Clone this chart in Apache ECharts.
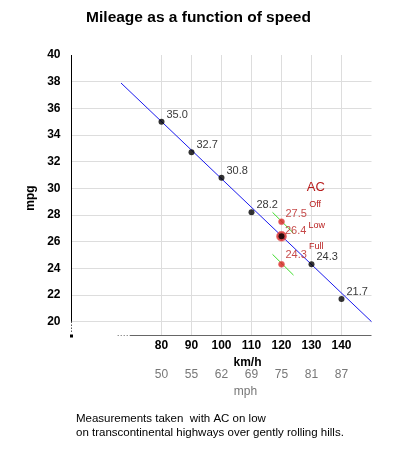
<!DOCTYPE html>
<html>
<head>
<meta charset="utf-8">
<script src="https://cdn.jsdelivr.net/npm/echarts@6/dist/echarts.min.js"></script>
<style>
html,body{margin:0;padding:0;background:#fff;}
#chart{width:397px;height:450px;}
</style>
</head>
<body>
<div id="chart"></div>
<script>
// measured points (km/h -> mpg)
var kmh = [80, 90, 100, 110, 120, 130, 140];
var mph = [50, 55, 62, 69, 75, 81, 87];
var mpg = [35.0, 32.7, 30.8, 28.2, 26.4, 24.3, 21.7];
var mpgTicks = [20, 22, 24, 26, 28, 30, 32, 34, 36, 38, 40];
// AC test at 120 km/h
var acSpeed = 120;
var acModes = ['Off', 'Low', 'Full'];
var acMpg = [27.5, 26.4, 24.3];
// trend lines
var fitLine = [[66.5, 37.9], [150, 20]];
var acTrendOff = [[117, 28.2], [124, 26.64]];
var acTrendFull = [[117, 25.05], [124, 23.49]];

var FONT = '"Liberation Sans", Arial, sans-serif';
var RED = '#b81c1c';
var GRID = '#dddddd';
var NONE = 'rgba(0,0,0,0)';

var X_MIN = 50, X_MAX = 150, X_STEP = 10;
var Y_MIN = 19, Y_MAX = 40, Y_STEP = 1;

// grid line colours: only at the labelled ticks (none along the top edge)
var xLineColors = [], yLineColors = [];
for (var v = X_MIN; v <= X_MAX; v += X_STEP) xLineColors.push(kmh.indexOf(v) >= 0 ? GRID : NONE);
for (var w = Y_MIN; w <= Y_MAX; w += Y_STEP) yLineColors.push(mpgTicks.indexOf(w) >= 0 && w < Y_MAX ? GRID : NONE);

var chart = echarts.init(document.getElementById('chart'));

var option = {
	animation: false,
	textStyle: { fontFamily: FONT },
	title: {
		text: 'Mileage as a function of speed',
		left: 'center',
		top: 5,
		textStyle: { fontSize: 15.5, fontWeight: 'bold', color: '#000', fontFamily: FONT }
	},
	grid: { left: 71.5, right: 25.5, top: 55, bottom: 115, outerBoundsMode: 'none' },
	xAxis: [{
		type: 'value',
		min: X_MIN, max: X_MAX, interval: X_STEP,
		axisLine: { show: false },
		axisTick: { show: false },
		splitLine: { show: true, lineStyle: { color: xLineColors, width: 1 } },
		axisLabel: {
			margin: 5,
			fontSize: 12, fontWeight: 'bold', color: '#000',
			formatter: function (v) { return kmh.indexOf(v) >= 0 ? v : ''; }
		},
		name: 'km/h', nameLocation: 'middle', nameGap: 21,
		nameTextStyle: { fontSize: 12, fontWeight: 'bold', color: '#000', padding: [0, 0, 0, 52] }
	}, {
		type: 'value',
		position: 'bottom',
		offset: 29,
		min: X_MIN, max: X_MAX, interval: X_STEP,
		axisLine: { show: false },
		axisTick: { show: false },
		splitLine: { show: false },
		axisLabel: {
			margin: 5,
			fontSize: 12, color: '#777',
			formatter: function (v) {
				var i = kmh.indexOf(v);
				return i >= 0 ? mph[i] : '';
			}
		},
		name: 'mph', nameLocation: 'middle', nameGap: 20,
		nameTextStyle: { fontSize: 12, color: '#777', padding: [0, 0, 0, 48] }
	}],
	yAxis: {
		type: 'value',
		min: Y_MIN, max: Y_MAX, interval: Y_STEP,
		axisLine: { show: false },
		axisTick: { show: false },
		splitLine: { show: true, lineStyle: { color: yLineColors, width: 1 } },
		axisLabel: {
			margin: 11,
			fontSize: 12, fontWeight: 'bold', color: '#000',
			formatter: function (v) { return mpgTicks.indexOf(v) >= 0 ? v : ''; }
		},
		name: 'mpg', nameLocation: 'middle', nameGap: 32,
		nameTextStyle: { fontSize: 12, fontWeight: 'bold', color: '#000', padding: [0, 6, 0, 0] }
	},
	series: [{
		type: 'line',
		data: fitLine,
		symbol: 'none',
		silent: true,
		z: 2,
		lineStyle: { color: '#1a1aee', width: 1 }
	}, {
		type: 'line',
		data: acTrendOff,
		symbol: 'none',
		silent: true,
		z: 2,
		lineStyle: { color: '#3ddd2a', width: 1 }
	}, {
		type: 'line',
		data: acTrendFull,
		symbol: 'none',
		silent: true,
		z: 2,
		lineStyle: { color: '#3ddd2a', width: 1 }
	}, {
		type: 'scatter',
		z: 3,
		data: acMpg.map(function (v, i) {
			var big = acModes[i] === 'Low';
			return {
				value: [acSpeed, v],
				symbolSize: big ? 10 : 6,
				label: { offset: big ? [-2, -5.5] : [0.5, i === 0 ? -8 : -9] }
			};
		}),
		itemStyle: { color: '#d82020', borderColor: 'rgba(235,110,110,0.7)', borderWidth: 1 },
		label: {
			show: true,
			position: 'right',
			distance: 0,
			fontSize: 11,
			color: RED,
			formatter: function (p) { return p.value[1].toFixed(1); }
		}
	}, {
		type: 'scatter',
		z: 4,
		symbolSize: 6,
		data: kmh.map(function (k, i) {
			return { value: [k, mpg[i]], label: { show: k !== acSpeed } };
		}),
		itemStyle: { color: '#000' },
		label: {
			show: true,
			position: 'right',
			distance: 2,
			offset: [0, -7],
			fontSize: 11,
			color: '#000',
			formatter: function (p) { return p.value[1].toFixed(1); }
		}
	}]
};
chart.setOption(option);

function px(pt) { return chart.convertToPixel({ gridIndex: 0 }, pt); }
function crisp(n) { return Math.round(n - 0.5) + 0.5; }

var graphics = [];

// broken axes drawn by hand, as in the original
var yTop = px([X_MIN, Y_MAX]), y20 = px([X_MIN, mpgTicks[0]]), yEnd = px([X_MIN, Y_MIN + 0.2]);
var ax = crisp(yTop[0]);
graphics.push(
	{ type: 'line', silent: true, z: 10, shape: { x1: ax, y1: yTop[1], x2: ax, y2: y20[1] }, style: { stroke: '#000', lineWidth: 1 } },
	{ type: 'line', silent: true, z: 10, shape: { x1: ax, y1: y20[1], x2: ax, y2: yEnd[1] }, style: { stroke: '#000', lineWidth: 1, lineDash: [1, 2] } },
	{ type: 'rect', silent: true, z: 10, shape: { x: ax - 1.5, y: crisp(px([X_MIN, Y_MIN])[1]) - 1, width: 3, height: 3 }, style: { fill: '#000' } }
);
var xStart = px([69.4, Y_MIN]), xDots = px([65.4, Y_MIN]), xEnd = px([X_MAX, Y_MIN]);
var ay = crisp(xStart[1]);
graphics.push(
	{ type: 'line', silent: true, z: 10, shape: { x1: xStart[0], y1: ay, x2: xEnd[0], y2: ay }, style: { stroke: '#666', lineWidth: 1 } },
	{ type: 'line', silent: true, z: 10, shape: { x1: xDots[0], y1: ay, x2: xStart[0], y2: ay }, style: { stroke: '#666', lineWidth: 1, lineDash: [1, 2] } }
);

// AC captions next to the red points
var acOffsets = [[33.6, -17.4], [35.3, -10.9], [34.8, -17.4]];
acMpg.forEach(function (v, i) {
	var p = px([acSpeed, v]);
	graphics.push({
		type: 'text',
		x: p[0] + acOffsets[i][0], y: p[1] + acOffsets[i][1],
		silent: true,
		style: { text: acModes[i], fill: RED, font: '9px ' + FONT, align: 'center', verticalAlign: 'middle' }
	});
	if (i === 0) {
		graphics.push({
			type: 'text',
			x: p[0] + 34.3, y: p[1] - 34.4,
			silent: true,
			style: { text: 'AC', fill: RED, font: '13px ' + FONT, align: 'center', verticalAlign: 'middle' }
		});
	}
});
graphics.push({
	type: 'text',
	left: 76, top: 412,
	silent: true,
	style: {
		text: 'Measurements taken  with AC on low\non transcontinental highways over gently rolling hills.',
		fill: '#000', font: '11.5px ' + FONT, lineHeight: 14
	}
});
chart.setOption({ graphic: graphics });
</script>
</body>
</html>
